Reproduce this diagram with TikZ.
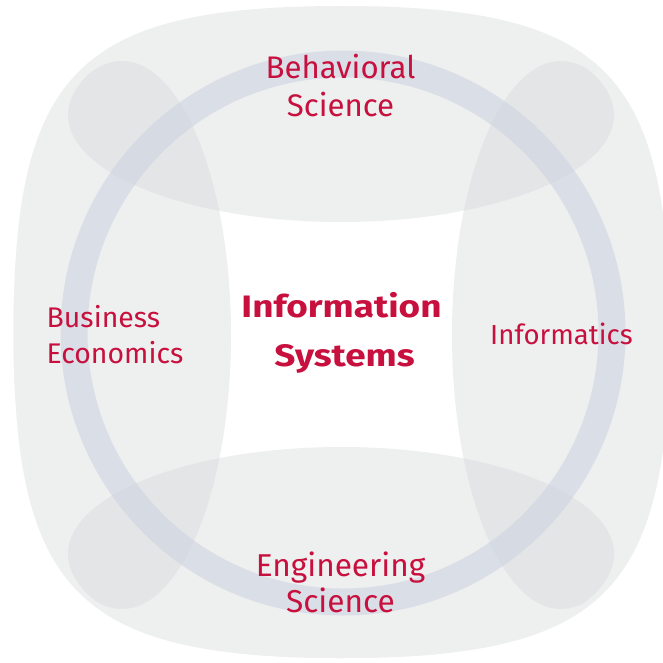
\documentclass[tikz,border=0pt]{standalone}
\usepackage{graphicx}
\usepackage{fontspec}
\setmainfont{Fira Sans}
\definecolor{outergray}{RGB}{238,239,239}
\definecolor{lensgray}{RGB}{228,229,231}
\definecolor{ringblue}{RGB}{205,212,224}
\definecolor{crimson}{RGB}{200,16,62}
\begin{document}
\begin{tikzpicture}[x=1pt,y=-1pt,
  lbl/.style={text=crimson, inner sep=0pt, anchor=base},
  boldlbl/.style={text=crimson, font=\fontsize{31pt}{36pt}\selectfont\bfseries, inner sep=0pt, anchor=base},
  ring/.style={draw=ringblue, draw opacity=0.6, line width=27pt}]
\useasboundingbox (0,0) rectangle (662,663);
% outer squircle
\fill[outergray] (669.5,332) .. controls (669.5,71.2) and (603.9,6) .. (341.5,6)
  .. controls (79.1,6) and (13.5,71.2) .. (13.5,332)
  .. controls (13.5,592.8) and (79.1,658) .. (341.5,658)
  .. controls (603.9,658) and (669.5,592.8) .. cycle;
% central white hole
\fill[white] (215,207) rectangle (467,460);
\begin{scope}
  \clip (669.5,332) .. controls (669.5,71.2) and (603.9,6) .. (341.5,6)
  .. controls (79.1,6) and (13.5,71.2) .. (13.5,332)
  .. controls (13.5,592.8) and (79.1,658) .. (341.5,658)
  .. controls (603.9,658) and (669.5,592.8) .. cycle;
  \fill[outergray] (341,115) ellipse [x radius=273pt, y radius=107pt];
  \fill[outergray] (341,554) ellipse [x radius=273pt, y radius=107pt];
  \fill[outergray] (122,335) ellipse [x radius=109pt, y radius=274pt];
  \fill[outergray] (561,335) ellipse [x radius=109pt, y radius=274pt];
\end{scope}
% overlaps
\begin{scope}
  \clip (341,115) ellipse [x radius=273pt, y radius=107pt];
  \fill[lensgray] (122,335) ellipse [x radius=109pt, y radius=274pt];
  \fill[lensgray] (561,335) ellipse [x radius=109pt, y radius=274pt];
\end{scope}
\begin{scope}
  \clip (341,554) ellipse [x radius=273pt, y radius=107pt];
  \fill[lensgray] (122,335) ellipse [x radius=109pt, y radius=274pt];
  \fill[lensgray] (561,335) ellipse [x radius=109pt, y radius=274pt];
\end{scope}
% ring
\draw[ring] (343,333) circle [radius=269pt];
% labels
\node[lbl, font=\fontsize{31.2pt}{36pt}\selectfont] (beh1) at (340.5,79) {Behavioral};
\node[lbl, font=\fontsize{31.2pt}{36pt}\selectfont] (beh2) at (340.5,117) {Science};
\node[lbl, anchor=base west, font=\fontsize{28.4pt}{34pt}\selectfont] (bus1) at (46.5,327) {Business};
\node[lbl, anchor=base west, font=\fontsize{28.4pt}{34pt}\selectfont] (bus2) at (46.5,363) {Economics};
\node[lbl, font=\fontsize{27.6pt}{34pt}\selectfont] (inf) at (561.5,344) {Informatics};
\node[boldlbl] (is1) at (341.5,317) {\scalebox{1.19}[1]{Information}};
\node[boldlbl] (is2) at (344.5,366) {\scalebox{1.19}[1]{Systems}};
\node[lbl, font=\fontsize{31.6pt}{36pt}\selectfont] (eng1) at (340.5,576) {Engineering};
\node[lbl, font=\fontsize{31.6pt}{36pt}\selectfont] (eng2) at (340.5,612) {Science};
\end{tikzpicture}
\end{document}
